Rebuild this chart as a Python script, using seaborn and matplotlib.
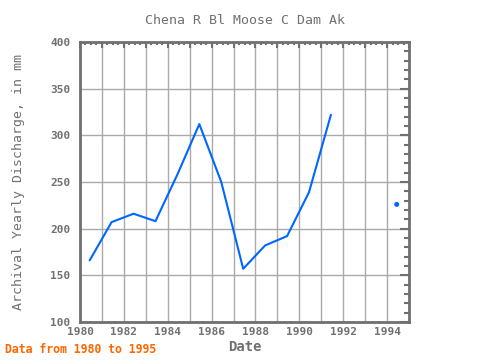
#Chena R Bl Moose C Dam Ak - yearly discharge
import seaborn as sns
import numpy as np
import pandas as pd
import matplotlib.pyplot as plt
from matplotlib.ticker import MultipleLocator

years = [1980, 1981, 1982, 1983, 1984, 1985, 1986, 1987, 1988, 1989, 1990, 1991, 1992, 1993, 1994]
discharge = [166, 207, 216, 208, 258, 312, 250, 157, 182, 192, 239, 322, None, None, 226]
x_ticks = [1980, 1982, 1984, 1986, 1988, 1990, 1992, 1994]
y_ticks = [100, 150, 200, 250, 300, 350, 400]

sns.set_style("white")
plt.rcParams['font.family'] = ['DejaVu Sans Mono', 'DejaVu Sans']

gray = '#707070'
blue = '#0066ff'

df = pd.DataFrame({'year': np.array(years) + 0.44, 'val': discharge})
df['seg'] = df['val'].isna().cumsum()
df = df.dropna()

fig = plt.figure(figsize=(4.8, 3.6), dpi=100)
ax = fig.add_axes([0.1667, 0.1056, 0.6854, 0.7778])

for seg, part in df.groupby('seg'):
    if len(part) > 1:
        sns.lineplot(data=part, x='year', y='val', ax=ax, color=blue, linewidth=1.5)
    else:
        sns.scatterplot(data=part, x='year', y='val', ax=ax, color=blue, s=13,
                        edgecolor='none')

ax.set_xlim(1980, 1995)
ax.set_ylim(100, 400)
# major tick every year, label only the even ones
all_years = list(range(1980, 1996))
ax.set_xticks(all_years)
ax.set_xticklabels([str(y) if y in x_ticks else '' for y in all_years])
ax.set_yticks(y_ticks)
ax.xaxis.set_minor_locator(MultipleLocator(0.25))
ax.yaxis.set_minor_locator(MultipleLocator(10))

ax.grid(color='#aaaaaa', linewidth=1)
ax.set_axisbelow(True)

for sp in ax.spines.values():
    sp.set_color(gray)
    sp.set_linewidth(2)

ax.tick_params(which='both', direction='in', top=True, right=True,
               color=gray, width=1.5, labelcolor=gray, labelsize=8)
ax.tick_params(which='major', length=6.5)
ax.tick_params(which='minor', length=3.5)
ax.tick_params(axis='x', which='major', length=4.5)
ax.tick_params(axis='x', which='minor', length=2.5)
ax.tick_params(axis='y', which='major', pad=7)
for lab in ax.get_xticklabels() + ax.get_yticklabels():
    lab.set_fontweight('bold')

ax.set_title('Chena R Bl Moose C Dam Ak', color=gray, fontsize=9.5, pad=13)
ax.set_xlabel('Date', color=gray, fontsize=10, fontweight='bold', labelpad=2)
ax.set_ylabel('Archival Yearly Discharge, in mm', color=gray, fontsize=9.5, labelpad=18)

fig.text(0.01, 0.012, 'Data from 1980 to 1995', color='#ff6600', fontsize=8.3,
         fontweight='bold', ha='left', va='bottom')

fig.savefig('out.png', dpi=100)
